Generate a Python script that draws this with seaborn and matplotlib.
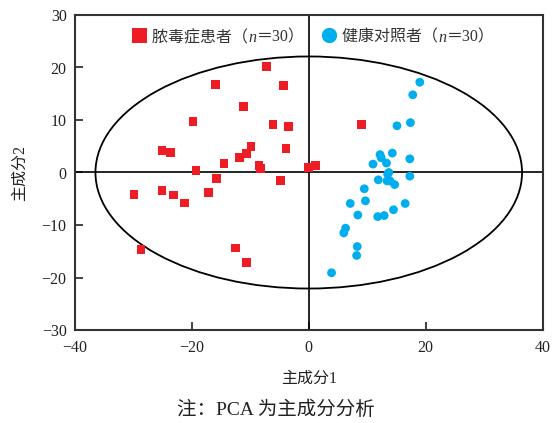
import numpy as np
import pandas as pd
import matplotlib
matplotlib.use("Agg")
import matplotlib.pyplot as plt
import seaborn as sns
from matplotlib.patches import Ellipse
from matplotlib.lines import Line2D
from matplotlib.offsetbox import HPacker, TextArea, DrawingArea, AnchoredOffsetbox

# PCA scores: sepsis patients (n=30)
sepsis_pc1 = [-7.2, -16.0, -4.3, -11.2, -19.8, -6.1, -3.5, -3.9, -25.1, -23.7,
              -9.9, -10.6, -11.8, -14.5, -8.5, -8.2, -19.3, -0.1, 1.1, -15.8,
              -4.9, -29.9, -25.1, -23.2, -21.2, -17.2, -28.7, -12.6, -10.6, 9.0]
sepsis_pc2 = [20.2, 16.7, 16.6, 12.6, 9.7, 9.2, 8.8, 4.6, 4.2, 3.8,
              4.9, 3.6, 2.9, 1.7, 1.4, 0.8, 0.4, 1.0, 1.4, -1.1,
              -1.5, -4.2, -3.4, -4.3, -5.8, -3.8, -14.6, -14.4, -17.2, 9.2]

# PCA scores: healthy controls (n=30)
control_pc1 = [19.0, 17.8, 17.4, 15.1, 14.3, 12.2, 12.4, 11.0, 13.3, 17.3,
               13.7, 13.5, 11.9, 13.4, 13.9, 14.7, 17.3, 9.5, 7.1, 9.7,
               8.4, 16.5, 14.5, 11.8, 12.9, 6.3, 6.0, 8.3, 8.2, 3.9]
control_pc2 = [17.2, 14.8, 9.5, 8.9, 3.7, 3.4, 2.8, 1.6, 1.8, 2.6,
               0.0, -0.3, -1.4, -1.6, -1.6, -2.3, -0.7, -3.1, -5.9, -5.4,
               -8.1, -5.9, -7.1, -8.4, -8.2, -10.6, -11.5, -14.1, -15.8, -19.1]

group_names = ["脓毒症患者", "健康对照者"]
group_sizes = [30, 30]
x_ticks = [-40, -20, 0, 20, 40]
y_ticks = [-30, -20, -10, 0, 10, 20, 30]
x_label = "主成分1"
y_label = "主成分2"
note = "注：PCA 为主成分分析"

# confidence ellipse (centre, full width, full height)
ellipse_center = (0.0, 0.0)
ellipse_width = 73.0
ellipse_height = 44.2

red = "#EE1D24"
blue = "#00AEEF"

df = pd.DataFrame({
    "PC1": sepsis_pc1 + control_pc1,
    "PC2": sepsis_pc2 + control_pc2,
    "group": [group_names[0]] * len(sepsis_pc1) + [group_names[1]] * len(control_pc1),
})

sns.set_style("white")
fam = ["Liberation Serif", "Noto Sans CJK SC"]
plt.rcParams["font.family"] = fam
plt.rcParams["axes.unicode_minus"] = True

fig = plt.figure(figsize=(5.52, 4.23), dpi=100)
ax = fig.add_axes([75 / 552, 1 - 330 / 423, (542.5 - 75) / 552, (330 - 15) / 423])

sns.scatterplot(
    data=df, x="PC1", y="PC2", hue="group", style="group",
    palette={group_names[0]: red, group_names[1]: blue},
    markers={group_names[0]: "s", group_names[1]: "o"},
    s=40, edgecolor="none", linewidth=0, legend=False, ax=ax, zorder=3,
)

ax.axhline(0, color="black", lw=1.2, zorder=2)
ax.axvline(0, color="black", lw=1.2, zorder=2)
ax.add_patch(Ellipse(ellipse_center, ellipse_width, ellipse_height,
                     fill=False, edgecolor="black", lw=1.3, zorder=2))

ax.set_xlim(x_ticks[0], x_ticks[-1])
ax.set_ylim(y_ticks[0], y_ticks[-1])
ax.set_xticks(x_ticks)
ax.set_yticks(y_ticks)
ax.set_xticklabels([f"{v:d}".replace("-", "\u2212") for v in x_ticks])
ax.set_yticklabels([f"{v:d}".replace("-", "\u2212") for v in y_ticks])
ax.tick_params(axis="both", direction="in", length=6, width=1.3, color="#333333",
               labelsize=11.5, labelcolor="#222222", top=False, right=False,
               bottom=True, left=True)
ax.tick_params(axis="x", pad=7)
ax.tick_params(axis="y", pad=6)
for sp in ax.spines.values():
    sp.set_color("#333333")
    sp.set_linewidth(1.5)

ax.set_xlabel(x_label, fontsize=11.5, color="#222222", labelpad=11)
ax.set_ylabel(y_label, fontsize=11.5, color="#222222", labelpad=10)

fig.text(0.5, 1 - 410 / 423, note, ha="center", va="center", fontsize=14, color="#222222")


def legend_entry(marker, color, msize, name, n):
    da = DrawingArea(14, 10, 0, 0)
    da.add_artist(Line2D([7], [5], marker=marker, markersize=msize, color=color,
                         markeredgewidth=0, linestyle="none"))
    tp = dict(fontfamily=fam, fontsize=11.5, color="#333333")
    parts = [
        da,
        TextArea(" " + name + "（", textprops=tp),
        TextArea("n", textprops=dict(tp, fontstyle="italic")),
        TextArea(f"＝{n}）", textprops=tp),
    ]
    return HPacker(children=parts, align="baseline", pad=0, sep=0)


entry1 = legend_entry("s", red, 10.8, group_names[0], group_sizes[0])
entry2 = legend_entry("o", blue, 11.0, group_names[1], group_sizes[1])
for entry, x0 in [(entry1, 129), (entry2, 319)]:
    box = AnchoredOffsetbox(loc="center left", child=entry, pad=0, borderpad=0,
                            frameon=False, bbox_to_anchor=(x0 / 552, 1 - 37 / 423),
                            bbox_transform=fig.transFigure)
    fig.add_artist(box)

fig.savefig("out.png", dpi=100)
